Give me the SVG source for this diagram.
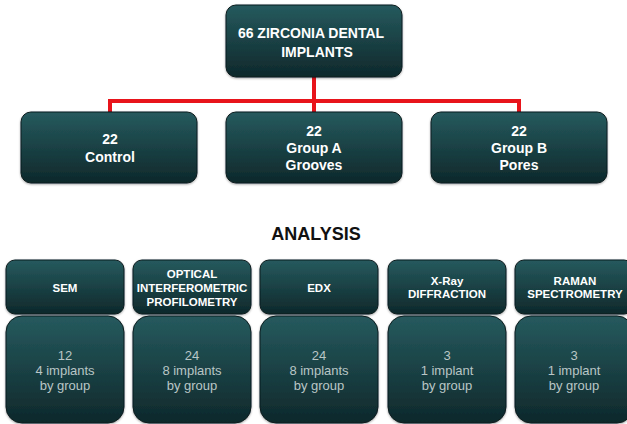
<svg xmlns="http://www.w3.org/2000/svg" width="627" height="424" viewBox="0 0 627 424">
<defs>
<linearGradient id="g" x1="0" y1="0" x2="0" y2="1">
<stop offset="0" stop-color="#265a5e"/>
<stop offset="1" stop-color="#0e282b"/>
</linearGradient>
<filter id="sh" x="-10%" y="-10%" width="120%" height="125%">
<feDropShadow dx="0" dy="1" stdDeviation="1" flood-color="#000" flood-opacity="0.35"/>
</filter>
</defs>
<style>
.box{fill:url(#g);stroke:#0a1c1e;stroke-width:1;filter:url(#sh)}
.t{font-family:"Liberation Sans",Arial,sans-serif;font-weight:bold;fill:#ffffff;text-anchor:middle}
.h{font-family:"Liberation Sans",Arial,sans-serif;font-weight:bold;fill:#ffffff;text-anchor:middle;font-size:11.5px}
.b{font-family:"Liberation Sans",Arial,sans-serif;fill:#b9c6c6;text-anchor:middle;font-size:13px}
.con{stroke:#e8141b;stroke-width:4;fill:none}
</style>
<rect width="627" height="424" fill="#ffffff"/>
<g id="connectors">
<path class="con" d="M314 77 V101 M110 112 V101 H519 V112 M314 101 V112"/>
</g>
<g id="root">
<rect class="box" x="226" y="5" width="176" height="72" rx="10"/>
<text class="t" font-size="14" x="311" y="38">66 ZIRCONIA DENTAL</text>
<text class="t" font-size="14" x="317" y="57">IMPLANTS</text>
</g>
<g id="control">
<rect class="box" x="21" y="112" width="176" height="71" rx="10"/>
<text class="t" font-size="14" x="110" y="144">22</text>
<text class="t" font-size="14" x="110" y="162">Control</text>
</g>
<g id="groupA">
<rect class="box" x="226" y="112" width="176" height="71" rx="10"/>
<text class="t" font-size="14" x="314" y="136">22</text>
<text class="t" font-size="14" x="314" y="153">Group A</text>
<text class="t" font-size="14" x="314" y="170">Grooves</text>
</g>
<g id="groupB">
<rect class="box" x="431" y="112" width="176" height="71" rx="10"/>
<text class="t" font-size="14" x="519" y="136">22</text>
<text class="t" font-size="14" x="519" y="153">Group B</text>
<text class="t" font-size="14" x="519" y="170">Pores</text>
</g>
<g id="analysis">
<text class="t" font-size="18" x="316" y="240" style="fill:#111111">ANALYSIS</text>
</g>
<g id="sem">
<rect class="box" x="6" y="260" width="118" height="54" rx="9"/>
<text class="h" x="65" y="292">SEM</text>
<rect class="box" x="6" y="316" width="118" height="107" rx="16"/>
<text class="b" x="65" y="360">12</text>
<text class="b" x="65" y="375">4 implants</text>
<text class="b" x="65" y="390">by group</text>
</g>
<g id="optical">
<rect class="box" x="133" y="260" width="118" height="54" rx="9"/>
<text class="h" x="192" y="278">OPTICAL</text>
<text class="h" x="192" y="292">INTERFEROMETRIC</text>
<text class="h" x="192" y="306">PROFILOMETRY</text>
<rect class="box" x="133" y="316" width="118" height="107" rx="16"/>
<text class="b" x="192" y="360">24</text>
<text class="b" x="192" y="375">8 implants</text>
<text class="b" x="192" y="390">by group</text>
</g>
<g id="edx">
<rect class="box" x="260" y="260" width="118" height="54" rx="9"/>
<text class="h" x="319" y="292">EDX</text>
<rect class="box" x="260" y="316" width="118" height="107" rx="16"/>
<text class="b" x="319" y="360">24</text>
<text class="b" x="319" y="375">8 implants</text>
<text class="b" x="319" y="390">by group</text>
</g>
<g id="xray">
<rect class="box" x="388" y="260" width="118" height="54" rx="9"/>
<text class="h" x="447" y="285">X-Ray</text>
<text class="h" x="447" y="298">DIFFRACTION</text>
<rect class="box" x="388" y="316" width="118" height="107" rx="16"/>
<text class="b" x="447" y="360">3</text>
<text class="b" x="447" y="375">1 implant</text>
<text class="b" x="447" y="390">by group</text>
</g>
<g id="raman">
<rect class="box" x="515" y="260" width="118" height="54" rx="9"/>
<text class="h" x="575" y="285">RAMAN</text>
<text class="h" x="575" y="298">SPECTROMETRY</text>
<rect class="box" x="515" y="316" width="118" height="107" rx="16"/>
<text class="b" x="574" y="360">3</text>
<text class="b" x="574" y="375">1 implant</text>
<text class="b" x="574" y="390">by  group</text>
</g>
</svg>
